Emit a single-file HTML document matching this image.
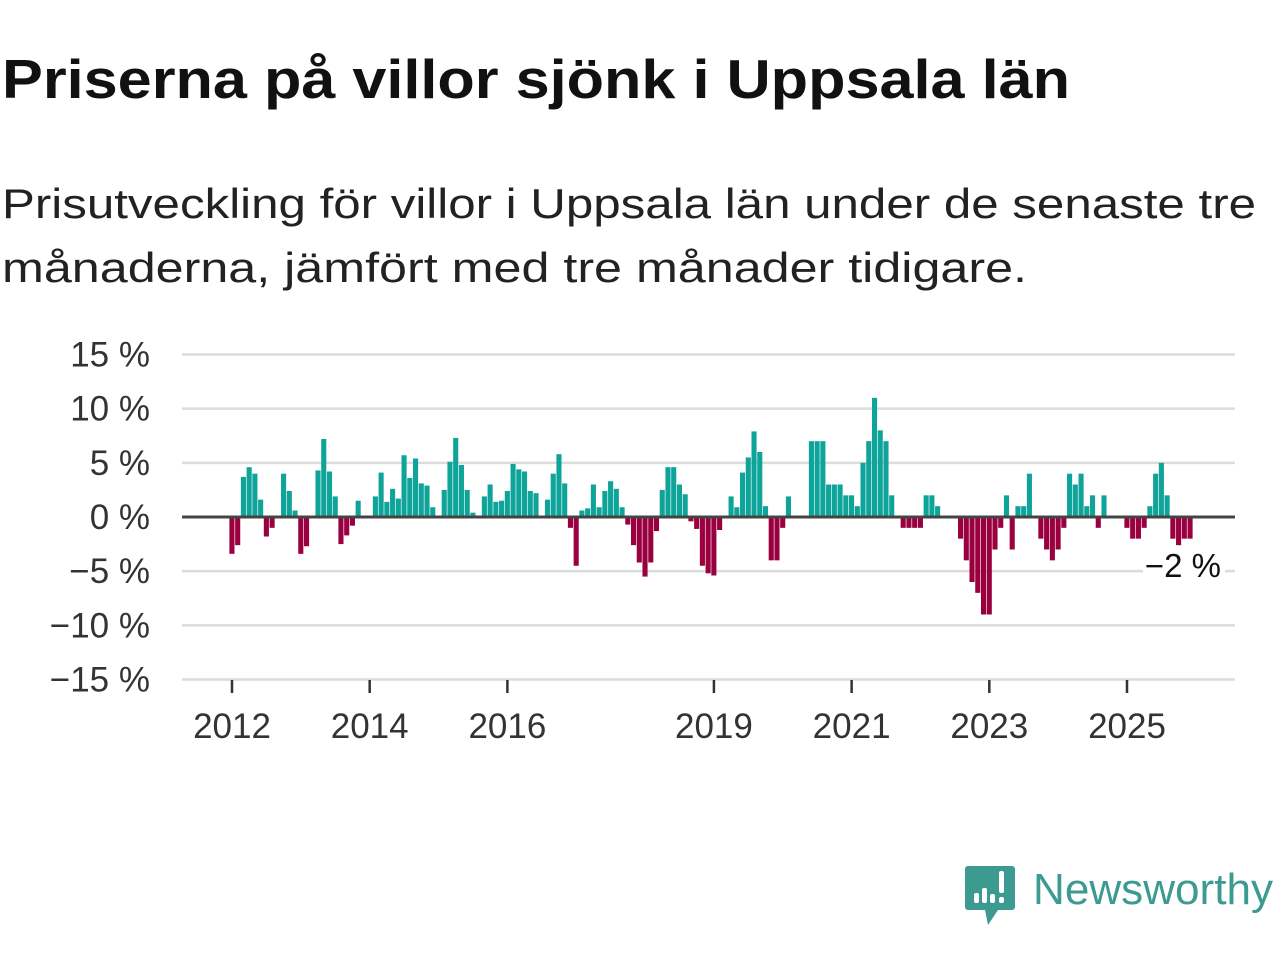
<!DOCTYPE html>
<html><head><meta charset="utf-8"><style>
html,body{margin:0;padding:0;background:#fff;width:1280px;height:960px;overflow:hidden}
svg{display:block;font-family:"Liberation Sans",sans-serif}
</style></head><body>
<svg id="chart" width="1280" height="960" viewBox="0 0 1280 960">
<text x="2" y="98" font-size="55" font-weight="bold" fill="#111" textLength="1068" lengthAdjust="spacingAndGlyphs">Priserna på villor sjönk i Uppsala län</text>
<text x="2" y="218" font-size="42" fill="#222" textLength="1254" lengthAdjust="spacingAndGlyphs">Prisutveckling för villor i Uppsala län under de senaste tre</text>
<text x="2" y="282" font-size="42" fill="#222" textLength="1025" lengthAdjust="spacingAndGlyphs">månaderna, jämfört med tre månader tidigare.</text>
<g id="grid"></g>
<g id="yaxis"></g>
<g id="bars"></g>
<g id="xaxis"></g>
<g id="annot"></g>
<g>
<path d="M968 866 h44 a3 3 0 0 1 3 3 v38 a3 3 0 0 1 -3 3 h-14 l-10 15 l-3 -15 h-17 a3 3 0 0 1 -3 -3 v-38 a3 3 0 0 1 3 -3z" fill="#3c9a90"/>
<rect x="974" y="893" width="5" height="10" rx="2" fill="#fff"/>
<rect x="982" y="888" width="5" height="15" rx="2" fill="#fff"/>
<rect x="990" y="894" width="5" height="9" rx="2" fill="#fff"/>
<rect x="999" y="871" width="5" height="22" rx="2" fill="#fff"/>
<rect x="999" y="897" width="5" height="6" rx="2" fill="#fff"/>
<text x="1033" y="904" font-size="44" fill="#3c9a90" textLength="240" lengthAdjust="spacingAndGlyphs">Newsworthy</text>
</g>
</svg>
<script>
const yTicks = [15, 10, 5, 0, -5, -10, -15];
const yTickLabels = ["15 %", "10 %", "5 %", "0 %", "\u22125 %", "\u221210 %", "\u221215 %"];
const xTickYears = [2012, 2014, 2016, 2019, 2021, 2023, 2025];
const startYear = 2012;
const values = [-3.4,-2.6,3.7,4.6,4.0,1.6,-1.8,-1.0,0,4.0,2.4,0.6,
-3.4,-2.7,0,4.3,7.2,4.2,1.9,-2.5,-1.7,-0.8,1.5,0,
0,1.9,4.1,1.4,2.6,1.7,5.7,3.6,5.4,3.1,2.9,0.9,
0,2.5,5.1,7.3,4.8,2.5,0.4,0,1.9,3.0,1.4,1.5,
2.4,4.9,4.4,4.2,2.4,2.2,0,1.6,4.0,5.8,3.1,-1.0,
-4.5,0.6,0.8,3.0,0.9,2.4,3.3,2.6,0.9,-0.7,-2.6,-4.2,
-5.5,-4.2,-1.3,2.5,4.6,4.6,3.0,2.1,-0.4,-1.1,-4.5,-5.2,
-5.4,-1.2,0,1.9,0.9,4.1,5.5,7.9,6.0,1.0,-4.0,-4.0,
-1.0,1.9,0,0,0,7,7,7,3,3,3,2,
2,1,5,7,11,8,7,2,0,-1,-1,-1,
-1,2,2,1,0,0,0,-2,-4,-6,-7,-9,
-9,-3,-1,2,-3,1,1,4,0,-2,-3,-4,
-3,-1,4,3,4,1,2,-1,2,0,0,0,
-1,-2,-2,-1,1,4,5,2,-2,-2.6,-2,-2];
const lastLabel = "\u22122 %";

const NS = "http://www.w3.org/2000/svg";
const X0 = 232, PXM = (1127 - 232) / 156;
function xScale(monthIndex){ return X0 + monthIndex * PXM; }
function yScale(v){ return 517 - v * (162.5 / 15); }
function mk(tag, attrs, parent){ const e = document.createElementNS(NS, tag); for (const k in attrs) e.setAttribute(k, attrs[k]); parent.appendChild(e); return e; }

const grid = document.getElementById('grid'), yaxis = document.getElementById('yaxis');
yTicks.forEach((t, i) => {
  if (t !== 0) {
    const l = mk('line', {x1: 182, x2: 1235, y1: yScale(t), y2: yScale(t), stroke: '#dcdcdc', 'stroke-width': 2.5}, grid);
    
    
  }
  const tx = mk('text', {x: 150, y: yScale(t) + 12, 'text-anchor': 'end', 'font-size': 35, fill: '#333'}, yaxis);
  tx.textContent = yTickLabels[i];
  
  
});

const bars = document.getElementById('bars');
values.forEach((v, i) => {
  if (v === 0) return;
  const cx = xScale(i);
  const y1 = yScale(Math.max(v, 0)), y2 = yScale(Math.min(v, 0));
  const r = mk('rect', {x: cx - 2.6, y: y1, width: 5.1, height: y2 - y1, fill: v > 0 ? '#0fa499' : '#9a003f'}, bars);
  
  
});
const zl = mk('line', {x1: 182, x2: 1235, y1: yScale(0), y2: yScale(0), stroke: '#444', 'stroke-width': 3}, bars);



const xaxis = document.getElementById('xaxis');
xTickYears.forEach(yr => {
  const x = xScale((yr - startYear) * 12);
  const tk = mk('line', {x1: x, x2: x, y1: 680, y2: 693, stroke: '#333', 'stroke-width': 2.5}, xaxis);
  
  
  const tx = mk('text', {x: x, y: 738, 'text-anchor': 'middle', 'font-size': 35, fill: '#333'}, xaxis);
  tx.textContent = yr;
  
  
});

const annot = document.getElementById('annot');
const bg = mk('rect', {x: 1143, y: 548, width: 82, height: 34, fill: '#fff'}, annot);


const at = mk('text', {x: 1221, y: 577, 'text-anchor': 'end', 'font-size': 33, fill: '#111'}, annot);
at.textContent = lastLabel;


</script>
</body></html>
